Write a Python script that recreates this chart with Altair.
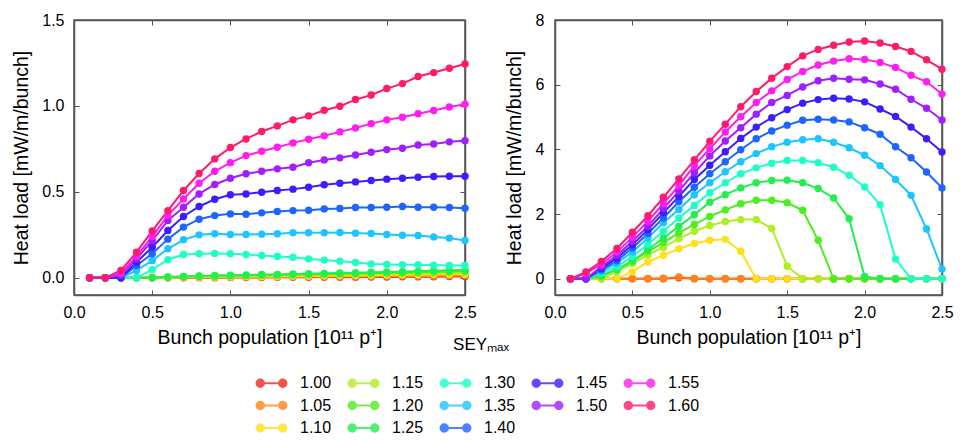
import altair as alt
import pandas as pd

# ---------------- data ----------------
x_vals = [0.1, 0.2, 0.3, 0.4, 0.5, 0.6, 0.7, 0.8, 0.9, 1.0, 1.1, 1.2, 1.3,
          1.4, 1.5, 1.6, 1.7, 1.8, 1.9, 2.0, 2.1, 2.2, 2.3, 2.4, 2.5]

sey_labels = ["1.00", "1.05", "1.10", "1.15", "1.20", "1.25", "1.30",
              "1.35", "1.40", "1.45", "1.50", "1.55", "1.60"]

sey_colors = ["#f0281e", "#ff8418", "#ffe01a", "#aef01e", "#4cee1e", "#22ee50",
              "#1effc8", "#1ec4ff", "#1e64ff", "#3a1eff", "#a01eff", "#ff1ef0",
              "#ff1a6c"]

# left panel
L100 = [0, 0, 0, 0, 0, 0, 0, 0.001, 0.001, 0.002, 0.002, 0.002, 0.003, 0.003, 0.003, 0.004, 0.004, 0.004, 0.005, 0.005, 0.006, 0.006, 0.006, 0.007, 0.008]
L105 = [0, 0, 0, 0, 0, 0.001, 0.001, 0.002, 0.002, 0.003, 0.003, 0.004, 0.004, 0.005, 0.006, 0.006, 0.007, 0.008, 0.008, 0.009, 0.010, 0.011, 0.011, 0.012, 0.013]
L110 = [0, 0, 0, 0, 0, 0.002, 0.003, 0.004, 0.005, 0.006, 0.007, 0.008, 0.009, 0.010, 0.011, 0.012, 0.013, 0.014, 0.015, 0.016, 0.017, 0.018, 0.019, 0.020, 0.021]
L115 = [0, 0, 0, 0, 0, 0.003, 0.005, 0.007, 0.008, 0.010, 0.011, 0.012, 0.013, 0.015, 0.016, 0.017, 0.019, 0.020, 0.021, 0.023, 0.024, 0.025, 0.027, 0.028, 0.030]
L120 = [0, 0, 0, 0, 0, 0.004, 0.007, 0.009, 0.011, 0.013, 0.014, 0.016, 0.017, 0.019, 0.020, 0.022, 0.024, 0.025, 0.027, 0.029, 0.030, 0.032, 0.034, 0.036, 0.038]
L125 = [0, 0, 0, 0, 0.001, 0.005, 0.008, 0.011, 0.013, 0.015, 0.017, 0.019, 0.020, 0.022, 0.024, 0.026, 0.028, 0.030, 0.032, 0.034, 0.036, 0.039, 0.041, 0.044, 0.046]
L130 = [0, 0, 0, 0, 0.047, 0.105, 0.136, 0.140, 0.141, 0.140, 0.136, 0.130, 0.124, 0.120, 0.110, 0.103, 0.097, 0.089, 0.081, 0.078, 0.076, 0.076, 0.074, 0.072, 0.072]
L135 = [0, 0, 0, 0.043, 0.100, 0.169, 0.221, 0.250, 0.256, 0.252, 0.252, 0.254, 0.256, 0.262, 0.262, 0.262, 0.264, 0.260, 0.258, 0.252, 0.248, 0.246, 0.238, 0.231, 0.217]
L140 = [0, 0, 0, 0.072, 0.140, 0.225, 0.295, 0.341, 0.362, 0.372, 0.370, 0.378, 0.386, 0.391, 0.393, 0.401, 0.403, 0.409, 0.409, 0.411, 0.415, 0.411, 0.411, 0.409, 0.405]
L145 = [0, 0, 0, 0.091, 0.178, 0.275, 0.357, 0.415, 0.457, 0.483, 0.488, 0.498, 0.508, 0.516, 0.527, 0.541, 0.550, 0.558, 0.566, 0.574, 0.579, 0.585, 0.589, 0.591, 0.591]
L150 = [0, 0, 0.014, 0.110, 0.217, 0.333, 0.411, 0.488, 0.543, 0.579, 0.605, 0.620, 0.634, 0.643, 0.669, 0.686, 0.698, 0.715, 0.731, 0.746, 0.754, 0.773, 0.779, 0.791, 0.797]
L155 = [0, 0, 0.027, 0.126, 0.240, 0.362, 0.459, 0.550, 0.620, 0.670, 0.711, 0.736, 0.760, 0.785, 0.806, 0.826, 0.849, 0.872, 0.897, 0.919, 0.934, 0.955, 0.973, 0.994, 1.010]
L160 = [0, 0, 0.043, 0.149, 0.273, 0.391, 0.508, 0.607, 0.692, 0.758, 0.808, 0.851, 0.884, 0.919, 0.942, 0.975, 0.998, 1.037, 1.064, 1.101, 1.130, 1.171, 1.194, 1.219, 1.244]

# right panel
R100 = [0, 0, 0, 0, 0, 0, 0, 0.03, 0, 0, 0, 0, 0, 0, 0, 0, 0, 0, 0, 0, 0, 0, 0, 0, 0]
R105 = [0, 0, 0, 0, 0, 0, 0.02, 0.06, 0.01, 0, 0, 0, 0, 0, 0, 0, 0, 0, 0, 0, 0, 0, 0, 0, 0]
R110 = [0, 0, 0, 0, 0.22, 0.52, 0.73, 0.93, 1.09, 1.19, 1.22, 0.85, 0, 0, 0, 0, 0, 0, 0, 0, 0, 0, 0, 0, 0]
R115 = [0, 0, 0, 0.22, 0.47, 0.74, 0.97, 1.24, 1.47, 1.65, 1.77, 1.83, 1.83, 1.56, 0.39, 0, 0, 0, 0, 0, 0, 0, 0, 0, 0]
R120 = [0, 0, 0.07, 0.30, 0.55, 0.85, 1.12, 1.42, 1.68, 1.93, 2.13, 2.32, 2.43, 2.43, 2.35, 2.12, 1.19, 0, 0, 0, 0, 0, 0, 0, 0]
R125 = [0, 0, 0.12, 0.28, 0.54, 0.90, 1.26, 1.62, 1.98, 2.37, 2.60, 2.81, 2.97, 3.04, 3.05, 2.97, 2.79, 2.50, 1.86, 0.07, 0, 0, 0, 0, 0]
R130 = [0, 0, 0.18, 0.38, 0.69, 1.07, 1.47, 1.88, 2.27, 2.66, 2.97, 3.25, 3.43, 3.57, 3.66, 3.66, 3.59, 3.45, 3.20, 2.84, 2.29, 0.61, 0, 0, 0]
R135 = [0, 0, 0.23, 0.49, 0.83, 1.26, 1.73, 2.14, 2.60, 2.97, 3.31, 3.62, 3.87, 4.08, 4.22, 4.30, 4.33, 4.22, 4.05, 3.82, 3.50, 3.07, 2.58, 1.54, 0.30]
R140 = [0, 0, 0.28, 0.56, 0.95, 1.40, 1.88, 2.38, 2.83, 3.25, 3.62, 3.99, 4.33, 4.57, 4.75, 4.90, 4.93, 4.91, 4.85, 4.67, 4.47, 4.08, 3.74, 3.30, 2.81]
R145 = [0, 0, 0.33, 0.64, 1.05, 1.52, 2.04, 2.55, 3.07, 3.51, 3.93, 4.34, 4.69, 4.98, 5.23, 5.43, 5.54, 5.58, 5.56, 5.47, 5.25, 5.02, 4.69, 4.33, 3.92]
R150 = [0, 0, 0.38, 0.72, 1.16, 1.62, 2.17, 2.71, 3.28, 3.80, 4.26, 4.67, 5.09, 5.45, 5.67, 5.93, 6.12, 6.20, 6.17, 6.15, 6.02, 5.86, 5.55, 5.27, 4.91]
R155 = [0, 0.17, 0.45, 0.83, 1.28, 1.78, 2.32, 2.88, 3.50, 4.02, 4.54, 5.01, 5.45, 5.81, 6.16, 6.41, 6.61, 6.73, 6.80, 6.78, 6.69, 6.53, 6.29, 6.09, 5.71]
R160 = [0, 0.21, 0.54, 0.94, 1.44, 1.95, 2.52, 3.09, 3.68, 4.25, 4.78, 5.32, 5.79, 6.20, 6.56, 6.89, 7.09, 7.22, 7.32, 7.35, 7.29, 7.18, 7.03, 6.77, 6.48]

left_series = [L100, L105, L110, L115, L120, L125, L130, L135, L140, L145, L150, L155, L160]
right_series = [R100, R105, R110, R115, R120, R125, R130, R135, R140, R145, R150, R155, R160]

x_ticks = [0.0, 0.5, 1.0, 1.5, 2.0, 2.5]
left_y_ticks = [0.0, 0.5, 1.0, 1.5]
right_y_ticks = [0, 2, 4, 6, 8]

# legend in 5 columns, filled column by column (3 rows)
legend_order = ["1.00", "1.15", "1.30", "1.45", "1.55",
                "1.05", "1.20", "1.35", "1.50", "1.60",
                "1.10", "1.25", "1.40"]
color_of = dict(zip(sey_labels, sey_colors))
legend_colors = [color_of[s] for s in legend_order]


def long_frame(series_list):
    rows = []
    for lab, ys in zip(sey_labels, series_list):
        for xv, yv in zip(x_vals, ys):
            rows.append({"x": xv, "y": yv, "sey": lab})
    return pd.DataFrame(rows)


FONT = "Liberation Sans"
W_L, W_R, H = 391, 387, 275
FRAME = "#555555"
TL = 5  # inward tick length

x_title = "Bunch population [10\u00b9\u00b9 p\u207a]"
y_title = "Heat load [mW/m/bunch]"

sym_path = ("M-1.5,0L1.5,0 "
            "M-2,0A0.5,0.5 0 1,0 -1,0A0.5,0.5 0 1,0 -2,0Z "
            "M1,0A0.5,0.5 0 1,0 2,0A0.5,0.5 0 1,0 1,0Z")

color_enc = alt.Color(
    "sey:N",
    scale=alt.Scale(domain=legend_order, range=legend_colors),
    legend=alt.Legend(
        title="SEY\u2098\u2090\u2093",
        orient="none",
        legendX=189,
        legendY=317,
        columns=5,
        direction="horizontal",
        symbolType=sym_path,
        symbolSize=225,
        symbolStrokeWidth=2,
        symbolOpacity=0.8,
        labelOffset=20,
        columnPadding=12,
        rowPadding=5.5,
        labelFont=FONT,
        labelFontSize=16,
        labelColor="#000000",
        titleFont=FONT,
        titleFontSize=17,
        titleFontWeight="normal",
        titleColor="#000000",
        titleAnchor="middle",
        titleAlign="center",
        titlePadding=20.5,
    ),
)


def grid_props(edge_value, span):
    # grid lines act as inward ticks on both sides; the one at the far edge
    # is drawn solid to close the frame
    test = "datum.value === %s" % repr(edge_value)
    return dict(
        grid=True,
        gridColor=FRAME,
        gridOpacity=1,
        gridWidth={"condition": {"test": test, "value": 1.5}, "value": 1},
        gridDash={"condition": {"test": test, "value": []},
                  "value": [TL, span - 2 * TL, TL]},
    )


def panel(series_list, ydom, yticks, yfmt, width, ylabelpad, ytitlepad):
    df = long_frame(series_list)
    xscale = alt.Scale(domain=[0, 2.5], nice=False, zero=False)
    yscale = alt.Scale(domain=ydom, nice=False, zero=False)
    xaxis = alt.Axis(values=x_ticks, format=".1f", title=x_title,
                     labelPadding=9, titlePadding=8, labelFlush=False,
                     domain=True, domainColor=FRAME, domainWidth=1.5,
                     **grid_props(2.5, H))
    yaxis = alt.Axis(values=yticks, format=yfmt, title=y_title,
                     labelPadding=ylabelpad, titlePadding=ytitlepad,
                     labelFlush=False,
                     domain=True, domainColor=FRAME, domainWidth=1.5,
                     **grid_props(ydom[1], width))
    xenc = alt.X("x:Q", scale=xscale, axis=xaxis)
    yenc = alt.Y("y:Q", scale=yscale, axis=yaxis)
    lines = alt.Chart(df).mark_line(strokeWidth=2).encode(
        x=xenc, y=yenc, color=color_enc)
    pts = alt.Chart(df).mark_circle(size=55, opacity=1).encode(
        x=xenc, y=yenc, color=color_enc)
    return alt.layer(lines, pts).properties(width=width, height=H)


left = panel(left_series, [-0.1, 1.5], left_y_ticks, ".1f", W_L, 10, 10)
right = panel(right_series, [-0.5, 8], right_y_ticks, "d", W_R, 11, 11)

chart = alt.hconcat(left, right, spacing=26).properties(
    padding={"left": 3, "top": 3, "right": 0, "bottom": 0},
    background="white",
).configure_view(
    stroke=FRAME, strokeWidth=1.5
).configure_axis(
    domain=False, ticks=False,
    labelFont=FONT, labelFontSize=16, labelColor="#000000",
    titleFont=FONT, titleFontSize=19.5, titleFontWeight="normal",
    titleColor="#000000",
)

chart.save("out.html", embed_options={"renderer": "svg", "actions": False})
